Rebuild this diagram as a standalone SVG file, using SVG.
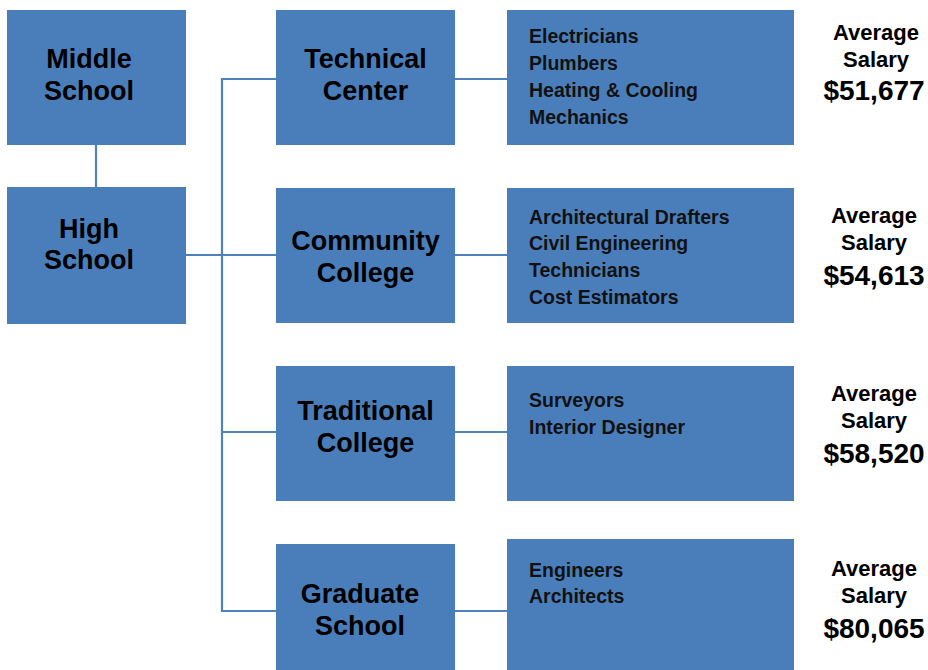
<svg xmlns="http://www.w3.org/2000/svg" width="928" height="670" viewBox="0 0 928 670">
<style>
.box{fill:#4a7ebb}
.conn{stroke:#4f81bd;stroke-width:2.2;fill:none}
.lbl{font-family:"Liberation Sans",Arial,sans-serif;font-weight:bold;font-size:27px;fill:#000;text-anchor:middle}
.job{font-family:"Liberation Sans",Arial,sans-serif;font-weight:bold;font-size:19.5px;fill:#111}
.avg{font-family:"Liberation Sans",Arial,sans-serif;font-weight:bold;font-size:22px;fill:#000;text-anchor:middle}
.sal{font-family:"Liberation Sans",Arial,sans-serif;font-weight:bold;font-size:28px;fill:#000;text-anchor:middle}
</style>
<rect width="928" height="670" fill="#fff"/>
<g id="connectors">
<line class="conn" x1="96" y1="145" x2="96" y2="187"/>
<line class="conn" x1="186" y1="255" x2="276" y2="255"/>
<polyline class="conn" points="276,79 222,79 222,611 276,611"/>
<line class="conn" x1="222" y1="432" x2="276" y2="432"/>
<line class="conn" x1="455" y1="79" x2="507" y2="79"/>
<line class="conn" x1="455" y1="255" x2="507" y2="255"/>
<line class="conn" x1="455" y1="432" x2="507" y2="432"/>
<line class="conn" x1="455" y1="611" x2="507" y2="611"/>
</g>
<g id="middle-school">
<rect class="box" x="7" y="10" width="179" height="135"/>
<text class="lbl" x="89" y="68">Middle</text>
<text class="lbl" x="89" y="100">School</text>
</g>
<g id="high-school">
<rect class="box" x="7" y="187" width="179" height="137"/>
<text class="lbl" x="89" y="238">High</text>
<text class="lbl" x="89" y="269">School</text>
</g>
<g id="technical-center">
<rect class="box" x="276" y="10" width="179" height="135"/>
<text class="lbl" x="365.5" y="68">Technical</text>
<text class="lbl" x="365.5" y="100">Center</text>
</g>
<g id="community-college">
<rect class="box" x="276" y="188" width="179" height="135"/>
<text class="lbl" x="365.5" y="250">Community</text>
<text class="lbl" x="365.5" y="282">College</text>
</g>
<g id="traditional-college">
<rect class="box" x="276" y="366" width="179" height="135"/>
<text class="lbl" x="365.5" y="420">Traditional</text>
<text class="lbl" x="365.5" y="452">College</text>
</g>
<g id="graduate-school">
<rect class="box" x="276" y="544" width="179" height="126"/>
<text class="lbl" x="360" y="603">Graduate</text>
<text class="lbl" x="360" y="635">School</text>
</g>
<g id="jobs-technical">
<rect class="box" x="507" y="10" width="287" height="135"/>
<text class="job" x="529" y="43">Electricians</text>
<text class="job" x="529" y="70">Plumbers</text>
<text class="job" x="529" y="97">Heating &amp; Cooling</text>
<text class="job" x="529" y="124">Mechanics</text>
</g>
<g id="jobs-community">
<rect class="box" x="507" y="188" width="287" height="135"/>
<text class="job" x="529" y="224">Architectural Drafters</text>
<text class="job" x="529" y="250">Civil Engineering</text>
<text class="job" x="529" y="277">Technicians</text>
<text class="job" x="529" y="304">Cost Estimators</text>
</g>
<g id="jobs-traditional">
<rect class="box" x="507" y="366" width="287" height="135"/>
<text class="job" x="529" y="407">Surveyors</text>
<text class="job" x="529" y="434">Interior Designer</text>
</g>
<g id="jobs-graduate">
<rect class="box" x="507" y="539" width="287" height="131"/>
<text class="job" x="529" y="577">Engineers</text>
<text class="job" x="529" y="603">Architects</text>
</g>
<g id="salary-1">
<text class="avg" x="876" y="40">Average</text>
<text class="avg" x="876" y="67">Salary</text>
<text class="sal" x="874" y="100">$51,677</text>
</g>
<g id="salary-2">
<text class="avg" x="874" y="223">Average</text>
<text class="avg" x="874" y="250">Salary</text>
<text class="sal" x="874" y="285">$54,613</text>
</g>
<g id="salary-3">
<text class="avg" x="874" y="401">Average</text>
<text class="avg" x="874" y="428">Salary</text>
<text class="sal" x="874" y="463">$58,520</text>
</g>
<g id="salary-4">
<text class="avg" x="874" y="576">Average</text>
<text class="avg" x="874" y="603">Salary</text>
<text class="sal" x="874" y="638">$80,065</text>
</g>
</svg>
